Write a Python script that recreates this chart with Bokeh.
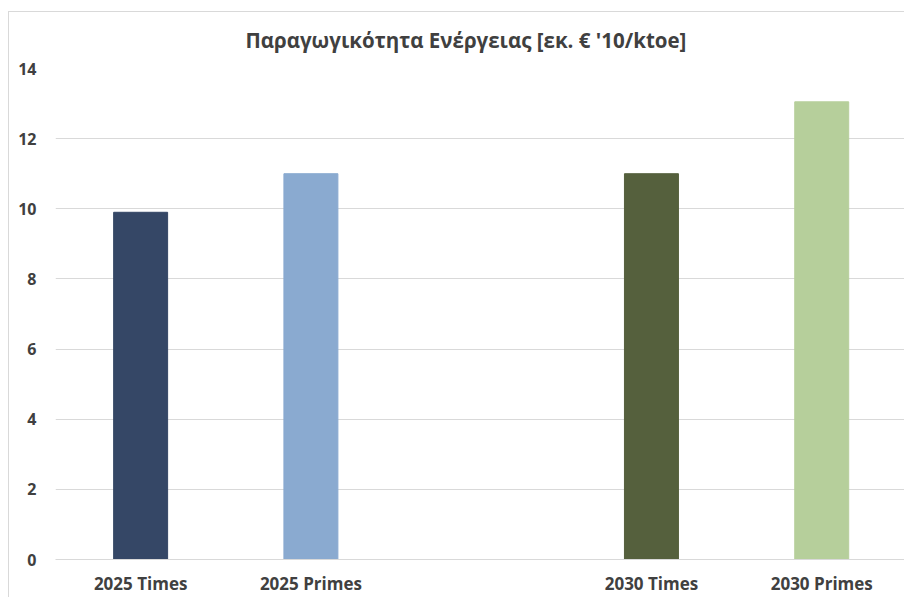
from bokeh.plotting import figure
from bokeh.models import ColumnDataSource, Range1d, FixedTicker
from bokeh.embed import file_html
from bokeh.resources import INLINE

# Data
categories = ["2025 Times", "2025 Primes", "", "2030 Times", "2030 Primes"]
values = [9.9, 11.0, None, 11.0, 13.05]
colors = ["#354766", "#8aaad0", None, "#55603d", "#b6cf9b"]
y_ticks = [0, 2, 4, 6, 8, 10, 12, 14]
title_text = "Παραγωγικότητα Ενέργειας  [εκ. € '10/ktoe]"

xs, tops, cols, labels = [], [], [], {}
for i, (c, v, col) in enumerate(zip(categories, values, colors)):
    if v is not None:
        xs.append(i)
        tops.append(v)
        cols.append(col)
        labels[i] = c

src = ColumnDataSource(dict(x=xs, top=tops, color=cols))

FONT = "Open Sans"
TXT = "#404040"

p = figure(width=896, height=586, output_backend="svg", toolbar_location=None,
           x_range=Range1d(-0.5, 4.492), y_range=Range1d(0, 14),
           min_border_left=46, min_border_right=0, min_border_top=56, min_border_bottom=39)
p.vbar(x="x", top="top", width=0.317, color="color", source=src)

p.title.text = title_text
p.title.align = "left"
p.title.vertical_align = "top"
p.title.offset = 190
p.title.standoff = 25
p.title.text_font = FONT
p.title.text_font_size = "20.5px"
p.title.text_font_style = "bold"
p.title.text_color = TXT

p.outline_line_color = None
p.xgrid.grid_line_color = None
p.ygrid.grid_line_color = "#d9d9d9"
p.ygrid.grid_line_width = 1

p.yaxis.ticker = FixedTicker(ticks=y_ticks)
p.yaxis.axis_line_color = None
p.yaxis.major_tick_line_color = None
p.yaxis.minor_tick_line_color = None
p.yaxis.major_tick_out = 0
p.yaxis.major_tick_in = 0
p.yaxis.minor_tick_out = 0
p.yaxis.major_label_standoff = 19
p.yaxis.major_label_text_font = FONT
p.yaxis.major_label_text_font_size = "16px"
p.yaxis.major_label_text_font_style = "bold"
p.yaxis.major_label_text_color = TXT

p.xaxis.ticker = FixedTicker(ticks=xs)
p.xaxis.major_label_overrides = labels
p.xaxis.axis_line_color = "#d9d9d9"
p.xaxis.major_tick_line_color = None
p.xaxis.minor_tick_line_color = None
p.xaxis.major_tick_out = 0
p.xaxis.major_tick_in = 0
p.xaxis.minor_tick_out = 0
p.xaxis.major_label_standoff = 12
p.xaxis.major_label_text_font = FONT
p.xaxis.major_label_text_font_size = "17px"
p.xaxis.major_label_text_font_style = "bold"
p.xaxis.major_label_text_color = TXT

# chart-area border (Excel style), offset from the page corner
p.styles = {"margin-left": "8px", "margin-top": "11px",
            "border-left": "1px solid #d9d9d9", "border-top": "1px solid #d9d9d9"}

open("out.html", "w").write(file_html(p, INLINE))
